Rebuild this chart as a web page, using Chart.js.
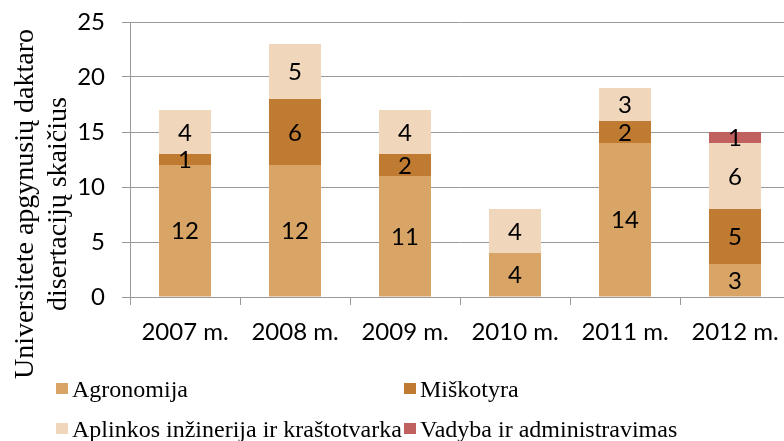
<!DOCTYPE html>
<html>
<head>
<meta charset="utf-8">
<script src="https://cdn.jsdelivr.net/npm/chart.js@4.4.0/dist/chart.umd.min.js"></script>
<style>
  html, body { margin: 0; padding: 0; background: #fff; overflow: hidden; width: 784px; height: 441px; }
  #wrap { position: absolute; left: 0; top: 0; width: 792px; height: 441px; }
  .lg-sq { position: absolute; width: 12px; height: 11px; }
  .lg-tx { position: absolute; font-family: "Liberation Serif", "Times New Roman", serif; font-size: 24px; line-height: 24px; color: #000; white-space: nowrap; }
</style>
</head>
<body>
<div id="wrap"><canvas id="c" width="792" height="441"></canvas></div>
<script>
const categories = ["2007 m.", "2008 m.", "2009 m.", "2010 m.", "2011 m.", "2012 m."];
const agronomija = [12, 12, 11, 4, 14, 3];
const miskotyra = [1, 6, 2, 0, 2, 5];
const aplinkos = [4, 5, 4, 4, 3, 6];
const vadyba = [0, 0, 0, 0, 0, 1];
const seriesNames = ["Agronomija", "Miškotyra", "Aplinkos inžinerija ir kraštotvarka", "Vadyba ir administravimas"];
const seriesColors = ["#D9A566", "#C07B32", "#F0D6BB", "#C0605F"];
const yTicks = [0, 5, 10, 15, 20, 25];
const titleLines = ["Universitete apgynusių daktaro", "disertacijų skaičius"];

const valueLabels = {
  id: 'valueLabels',
  afterDatasetsDraw(chart) {
    const ctx = chart.ctx;
    ctx.save();
    ctx.font = '24px Lato, "Open Sans", sans-serif';
    ctx.fillStyle = '#000';
    ctx.textAlign = 'center';
    ctx.textBaseline = 'middle';
    chart.data.datasets.forEach((ds, i) => {
      const meta = chart.getDatasetMeta(i);
      meta.data.forEach((el, j) => {
        const v = ds.data[j];
        if (!v) return;
        ctx.fillText(String(v), el.x, (el.y + el.base) / 2 + 1);
      });
    });
    ctx.restore();
  }
};

const axisTitle = {
  id: 'axisTitle',
  afterDraw(chart) {
    const ctx = chart.ctx;
    ctx.save();
    ctx.font = '28px "Liberation Serif", "Times New Roman", serif';
    ctx.fillStyle = '#000';
    ctx.textAlign = 'center';
    ctx.textBaseline = 'middle';
    const xs = [26, 59];
    titleLines.forEach((t, i) => {
      ctx.save();
      ctx.translate(xs[i], 204);
      ctx.rotate(-Math.PI / 2);
      ctx.fillText(t, 0, 0);
      ctx.restore();
    });
    ctx.restore();
  }
};

const data = {
  labels: categories,
  datasets: [agronomija, miskotyra, aplinkos, vadyba].map((d, i) => ({
    label: seriesNames[i],
    data: d,
    backgroundColor: seriesColors[i],
    borderWidth: 0,
    barPercentage: 0.473,
    categoryPercentage: 1.0
  }))
};

new Chart(document.getElementById('c'), {
  type: 'bar',
  data,
  options: {
    responsive: false,
    animation: false,
    layout: { padding: { top: 22, right: 2, left: 0, bottom: 94 } },
    plugins: { legend: { display: false }, tooltip: { enabled: false } },
    scales: {
      x: {
        stacked: true,
        grid: { display: true, drawOnChartArea: false, offset: true, tickLength: 8, color: '#999', lineWidth: 1 },
        border: { color: '#999', width: 1 },
        ticks: { color: '#000', font: { family: 'Lato, "Open Sans", sans-serif', size: 24 }, padding: 13, maxRotation: 0, autoSkip: false },
        afterFit(s) { s.height = 50; s.paddingLeft = 0; s.paddingRight = 0; }
      },
      y: {
        stacked: true,
        min: 0, max: 25,
        afterBuildTicks(s) { s.ticks = yTicks.map(v => ({ value: v })); },
        grid: { color: '#999', lineWidth: 1, tickLength: 8 },
        border: { color: '#999', width: 1 },
        ticks: { color: '#000', font: { family: 'Lato, "Open Sans", sans-serif', size: 24 }, padding: 17 },
        afterFit(s) { s.width = 130; s.paddingTop = 0; s.paddingBottom = 0; }
      }
    }
  },
  plugins: [valueLabels, axisTitle]
});

// Legend (two columns, two rows)
const legendPos = [[56, 377], [404, 377], [56, 417], [404, 417]];
const wrap = document.getElementById('wrap');
seriesNames.forEach((name, i) => {
  const [x, y] = legendPos[i];
  const sq = document.createElement('div');
  sq.className = 'lg-sq';
  sq.style.left = x + 'px';
  sq.style.top = (y + 6) + 'px';
  sq.style.background = seriesColors[i];
  wrap.appendChild(sq);
  const tx = document.createElement('div');
  tx.className = 'lg-tx';
  tx.style.left = (x + 16) + 'px';
  tx.style.top = y + 'px';
  tx.textContent = name;
  wrap.appendChild(tx);
});
</script>
</body>
</html>
